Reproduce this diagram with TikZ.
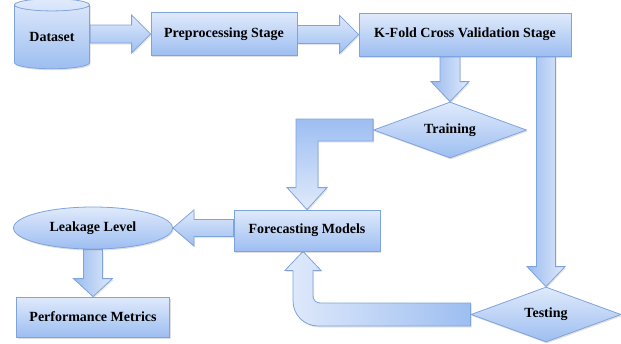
\documentclass[tikz,border=0pt]{standalone}
\usepackage{fontspec}
\setmainfont{Liberation Serif}
\usetikzlibrary{shapes.geometric, shadows, calc, backgrounds}
\definecolor{flowtop}{HTML}{E0EAFB}
\definecolor{flowbot}{HTML}{9DBEF1}
\definecolor{flowline}{HTML}{7FA3DD}

\begin{document}
\begin{tikzpicture}[x=1pt, y=1pt,
    stage/.style={draw=flowline, top color=flowtop, bottom color=flowbot, line width=0.8pt,
      drop shadow={shadow xshift=1pt, shadow yshift=-1.5pt, opacity=0.25},
      font=\fontsize{14}{16}\selectfont\bfseries, text centered, inner sep=0pt},
    box/.style={stage, rectangle},
    decision/.style={stage, diamond, aspect=2.7},
    barrow/.style={draw=flowline, top color=flowtop, bottom color=flowbot, line width=0.8pt,
      drop shadow={shadow xshift=1pt, shadow yshift=-1.5pt, opacity=0.2}},
    darrow/.style={barrow, left color=flowbot!90!flowline, right color=flowtop},
    larrow/.style={barrow, top color=flowbot, bottom color=flowtop}]
  \useasboundingbox (0,0) rectangle (621,-343);

  % Stages
  \node[stage, cylinder, shape border rotate=90, aspect=0.27, minimum width=75pt, minimum height=70pt] (data) at (52,-37) {Dataset};
  \node[box, minimum width=146pt, minimum height=43pt] (pre) at (224,-34) {Preprocessing Stage};
  \node[box, minimum width=212pt, minimum height=43pt] (kfold) at (465,-34.5) {K-Fold Cross Validation Stage};
  \node[decision, minimum width=153pt, minimum height=56pt] (train) at (450,-130) {Training};
  \node[decision, minimum width=150pt, minimum height=55pt] (test) at (546,-314.5) {Testing};
  \node[box, minimum width=146pt, minimum height=41pt] (fore) at (307,-230.5) {Forecasting Models};
  \node[stage, ellipse, minimum width=159pt, minimum height=42pt] (leak) at (93,-228) {Leakage Level};
  \node[box, minimum width=153pt, minimum height=40pt] (perf) at (93,-317) {Performance Metrics};

  % Block arrows
  \begin{scope}[on background layer]
    \path[barrow] let \p1=(data.east), \p2=(pre.west) in
      (\x1,\y2+9pt) -- (\x2-19pt,\y2+9pt) -- (\x2-19pt,\y2+19pt) -- (\p2)
      -- (\x2-19pt,\y2-19pt) -- (\x2-19pt,\y2-9pt) -- (\x1,\y2-9pt) -- cycle;
    \path[barrow] let \p1=(pre.east), \p2=(kfold.west) in
      (\x1,\y2+9pt) -- (\x2-19pt,\y2+9pt) -- (\x2-19pt,\y2+19pt) -- (\p2)
      -- (\x2-19pt,\y2-19pt) -- (\x2-19pt,\y2-9pt) -- (\x1,\y2-9pt) -- cycle;
    \path[darrow] let \p1=(kfold.south), \p2=(train.north) in
      (\x2-10pt,\y1) -- (\x2-10pt,\y2+20pt) -- (\x2-19pt,\y2+20pt) -- (\p2)
      -- (\x2+19pt,\y2+20pt) -- (\x2+10pt,\y2+20pt) -- (\x2+10pt,\y1) -- cycle;
    \path[darrow] let \p1=(kfold.south), \p2=(test.north) in
      (\x2-9.5pt,\y1) -- (\x2-9.5pt,\y2+20pt) -- (\x2-19pt,\y2+20pt) -- (\p2)
      -- (\x2+19pt,\y2+20pt) -- (\x2+9.5pt,\y2+20pt) -- (\x2+9.5pt,\y1) -- cycle;
    \path[larrow] let \p1=(train.west), \p2=(fore.north) in
      (\x1,\y1+11pt) -- (\x2-11pt,\y1+11pt) -- (\x2-11pt,\y2+22pt) -- (\x2-20pt,\y2+22pt) -- (\p2)
      -- (\x2+20pt,\y2+22pt) -- (\x2+11pt,\y2+22pt) -- (\x2+11pt,\y1-11pt) -- (\x1,\y1-11pt) -- cycle;
    \path[barrow] let \p1=(fore.west), \p2=(leak.east) in
      (\x1,\y2+8.5pt) -- (\x2+21pt,\y2+8.5pt) -- (\x2+21pt,\y2+18pt) -- (\p2)
      -- (\x2+21pt,\y2-18pt) -- (\x2+21pt,\y2-8.5pt) -- (\x1,\y2-8.5pt) -- cycle;
    \path[darrow] let \p1=(leak.south), \p2=(perf.north) in
      (\x2-9.5pt,\y1) -- (\x2-9.5pt,\y2+18pt) -- (\x2-19.5pt,\y2+18pt) -- (\p2)
      -- (\x2+19.5pt,\y2+18pt) -- (\x2+9.5pt,\y2+18pt) -- (\x2+9.5pt,\y1) -- cycle;
    \path[barrow, left color=flowtop, right color=flowbot] let \p1=(test.west), \p2=($(fore.south)+(-4,0)$) in
      (\x1,\y1-11.5pt) -- (\x2+15pt,\y1-11.5pt) arc[start angle=270, end angle=180, radius=25pt]
      -- (\x2-10pt,\y2-19pt) -- (\x2-18pt,\y2-19pt) -- (\p2) -- (\x2+18pt,\y2-19pt)
      -- (\x2+10pt,\y2-19pt) -- (\x2+10pt,\y1+18.5pt) arc[start angle=180, end angle=270, radius=7pt]
      -- (\x1,\y1+11.5pt) -- cycle;
  \end{scope}
\end{tikzpicture}
\end{document}
